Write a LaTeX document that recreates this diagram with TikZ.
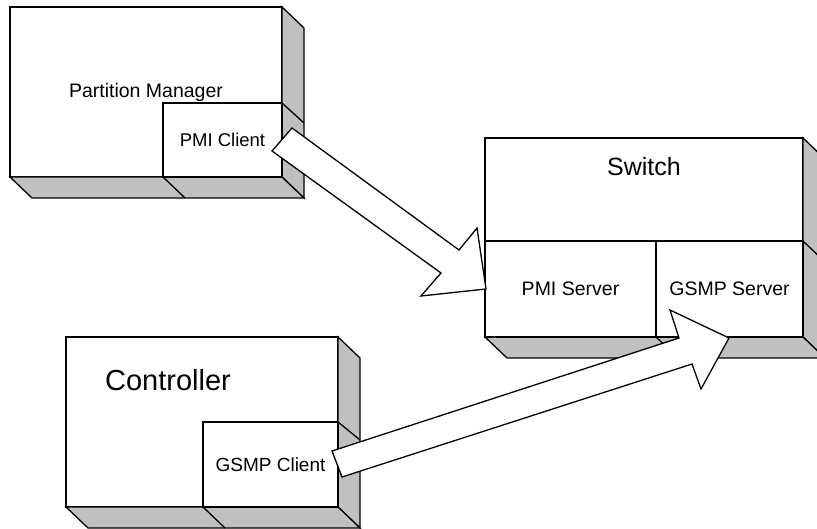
\documentclass[tikz,border=0pt]{standalone}
\usepackage{fontspec}
\setmainfont{Liberation Sans}
\definecolor{boxgray}{HTML}{C0C0C0}
\tikzset{
  face/.style={draw, fill=white, line width=1.3pt, inner sep=0pt, outer sep=0pt},
  sideface/.style={draw, fill=boxgray, line width=1.3pt, line join=miter},
  divider/.style={draw, line width=1.3pt},
  blockarrow/.style={draw, fill=white, line width=1.3pt, line join=miter},
  lbl/.style={inner sep=0pt},
}
\newcommand{\solidbox}[5]{%
  \node[face, minimum width=#4, minimum height=#5] (#1) at (#2,#3) {};
  \path[sideface] (#1.north east) -- ++(22,21) -- ([shift={(22,21)}]#1.south east) -- (#1.south east) -- cycle;
  \path[sideface] (#1.south west) -- ++(22,21) -- ([shift={(22,21)}]#1.south east) -- (#1.south east) -- cycle;
}
\begin{document}
\begin{tikzpicture}[x=1pt,y=-1pt]
\useasboundingbox (0,0) rectangle (817,529);

% Partition Manager
\solidbox{pm}{146}{92}{272}{170}
\node[lbl, font=\fontsize{19.5}{23}\selectfont] (pmlbl) at (146,92) {Partition Manager};
\node[face, minimum width=119, minimum height=74, font=\fontsize{18.5}{22}\selectfont] (pmic) at (222.5,140) {PMI Client};
\draw[divider] (pmic.north east) -- ++(22,20);
\draw[divider] (pmic.south west) -- ++(22,21);

% Switch
\solidbox{sw}{644}{237.5}{318}{199}
\node[lbl, font=\fontsize{25}{30}\selectfont] (swlbl) at (644,167) {Switch};
\node[face, minimum width=171, minimum height=96, font=\fontsize{19.5}{23}\selectfont] (pmis) at (570.5,289) {PMI Server};
\node[face, minimum width=147, minimum height=96, font=\fontsize{19.5}{23}\selectfont] (gsmps) at (729.5,289) {GSMP Server};
\draw[divider] (gsmps.north east) -- ++(22,21);
\draw[divider] (gsmps.south west) -- ++(22,21);

% Controller
\solidbox{ct}{202}{422}{272}{170}
\node[lbl, font=\fontsize{29}{34}\selectfont] (ctlbl) at (168,380) {Controller};
\node[face, minimum width=135, minimum height=85, font=\fontsize{19}{23}\selectfont] (gsmpc) at (270.5,464.5) {GSMP Client};
\draw[divider] (gsmpc.north east) -- ++(22,18);
\draw[divider] (gsmpc.south west) -- ++(22,21);

% Block arrows
\path[blockarrow] (272,151) -- (292,128) -- (459,250) -- (477,228) -- (486,289)
  -- (421,296) -- (441,273) -- cycle;
\path[blockarrow] (332,451) -- (679,338) -- (670,310) -- (729,338) -- (701,389)
  -- (692,364) -- (342,477) -- cycle;
\end{tikzpicture}
\end{document}
